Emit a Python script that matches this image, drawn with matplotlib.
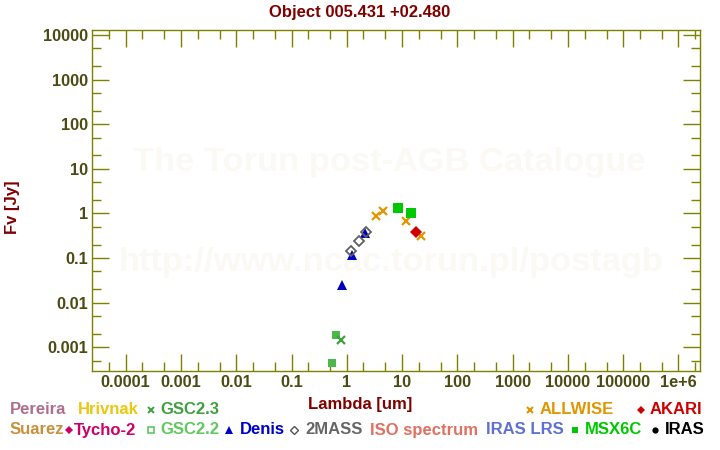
import matplotlib
matplotlib.use("Agg")
import matplotlib.pyplot as plt
from matplotlib.ticker import FixedLocator, FixedFormatter, LogLocator, NullFormatter
from matplotlib.lines import Line2D

plt.rcParams['font.family'] = ['Liberation Sans', 'DejaVu Sans']
plt.rcParams['font.weight'] = 'bold'

# ---- data (wavelength in um, flux in Jy) ----
gsc22_x = [0.55, 0.65]
gsc22_y = [0.00044, 0.00185]
gsc23_x = [0.80]
gsc23_y = [0.00147]
denis_x = [0.82, 1.25, 2.17]
denis_y = [0.0248, 0.117, 0.37]
mass2_x = [1.20, 1.69, 2.20]
mass2_y = [0.144, 0.237, 0.389]
allwise_x = [3.35, 4.6, 11.6, 22.1]
allwise_y = [0.86, 1.11, 0.67, 0.32]
msx_x = [8.3, 14.7]
msx_y = [1.30, 1.00]
akari_x = [17.9]
akari_y = [0.377]

xticks = [1e-4, 1e-3, 1e-2, 1e-1, 1, 10, 100, 1e3, 1e4, 1e5, 1e6]
xtick_labels = ['0.0001', '0.001', '0.01', '0.1', '1', '10', '100', '1000',
                '10000', '100000', '1e+6']
yticks = [1e-3, 1e-2, 1e-1, 1, 10, 100, 1e3, 1e4]
ytick_labels = ['0.001', '0.01', '0.1', '1', '10', '100', '1000', '10000']

title = 'Object 005.431 +02.480'

W, H = 720, 450
fig = plt.figure(figsize=(7.2, 4.5), dpi=100)
ax = fig.add_axes([92.3 / W, 1 - 370.7 / H, (700 - 92.3) / W, (370.7 - 29.7) / H])
ax.set_xscale('log')
ax.set_yscale('log')
ax.set_xlim(10 ** -4.604, 10 ** 6.389)
ax.set_ylim(10 ** -3.525, 10 ** 4.119)

olive = '#808000'
labc = '#4b4b14'
dred = '#800000'
for s in ax.spines.values():
    s.set_color(olive)
    s.set_linewidth(1.0)

ax.xaxis.set_major_locator(FixedLocator(xticks))
ax.xaxis.set_major_formatter(FixedFormatter(xtick_labels))
ax.yaxis.set_major_locator(FixedLocator(yticks))
ax.yaxis.set_major_formatter(FixedFormatter(ytick_labels))
ax.xaxis.set_minor_locator(LogLocator(base=10, subs=(2, 5), numticks=100))
ax.yaxis.set_minor_locator(LogLocator(base=10, subs=(2, 5), numticks=100))
ax.xaxis.set_minor_formatter(NullFormatter())
ax.yaxis.set_minor_formatter(NullFormatter())
ax.tick_params(which='both', direction='in', top=True, right=True, color=olive,
               width=1.0, labelsize=11.8, labelcolor=labc, pad=3)
ax.tick_params(which='major', length=12.5)
ax.tick_params(which='minor', length=6.5)
for lab in ax.get_xticklabels() + ax.get_yticklabels():
    lab.set_fontweight('bold')

# watermarks
wm = '#faf9f4'
ax.text(389 / W, 1 - 163 / H, 'The Torun post-AGB Catalogue', transform=fig.transFigure,
        ha='center', va='center', fontsize=24.8, color=wm, fontweight='bold', zorder=0)
ax.text(391 / W, 1 - 262 / H, 'http://www.ncac.torun.pl/postagb', transform=fig.transFigure,
        ha='center', va='center', fontsize=24.8, color=wm, fontweight='bold', zorder=0)

# data
ax.plot(gsc22_x, gsc22_y, 's', color='#4cb84c', ms=5.8, mew=0, ls='none', zorder=3)
ax.plot(gsc23_x, gsc23_y, 'x', color='#40a040', ms=5.5, mew=1.6, ls='none', zorder=3)
ax.plot(denis_x, denis_y, '^', color='#0000c0', ms=7, mew=0, ls='none', zorder=3)
ax.plot(mass2_x, mass2_y, 'D', mfc='none', mec='#606060', ms=5, mew=1.3, ls='none', zorder=4)
ax.plot(allwise_x, allwise_y, 'x', color='#e09600', ms=5.5, mew=1.6, ls='none', zorder=3)
ax.plot(msx_x, msx_y, 's', color='#00c800', ms=6.5, mew=0, ls='none', zorder=3)
ax.plot(akari_x, akari_y, 'D', color='#d00000', ms=5.8, mew=0, ls='none', zorder=3)

# titles
fig.text(360 / W, 1 - 12 / H, title, ha='center', va='center', fontsize=12,
         color=dred, fontweight='bold')
fig.text(360 / W, 1 - 404 / H, 'Lambda [um]', ha='center', va='center', fontsize=12,
         color=dred, fontweight='bold')
fig.text(12 / W, 1 - 207 / H, 'Fv [Jy]', ha='center', va='center', fontsize=12,
         color=dred, fontweight='bold', rotation=90)

# legend (text + symbols)
def ltext(x, y, s, c):
    fig.text(x / W, 1 - y / H, s, ha='left', va='center', fontsize=12, color=c,
             fontweight='bold')

def lmark(x, y, m, c, **kw):
    fig.add_artist(Line2D([x / W], [1 - y / H], marker=m, color=c, ls='none',
                          transform=fig.transFigure, **kw))

r1, r2 = 410, 430
ltext(10, r1, 'Pereira', '#b06e8e')
ltext(78, r1, 'Hrivnak', '#e8c810')
lmark(150.7, r1, 'x', '#40a040', ms=4.5, mew=1.4)
ltext(160, r1, 'GSC2.3', '#40a040')
lmark(530.3, r1, 'x', '#e09600', ms=5, mew=1.5)
ltext(539.5, r1, 'ALLWISE', '#e09600')
lmark(641, r1, 'D', '#d00000', ms=4.5, mew=0)
ltext(649.5, r1, 'AKARI', '#d00000')

ltext(10, r2, 'Suarez', '#c8903c')
lmark(69.3, r2, 'D', '#cc0066', ms=4.5, mew=0)
ltext(73.5, r2, 'Tycho-2', '#cc0066')
lmark(151.3, r2, 's', '#60c860', mfc='none', ms=4.5, mew=1.2)
ltext(160.5, r2, 'GSC2.2', '#60c860')
lmark(228.7, r2, '^', '#0000cc', ms=5.5, mew=0)
ltext(240, r2, 'Denis', '#0000cc')
lmark(294, r2, 'D', '#555555', mfc='none', ms=4, mew=1.0)
ltext(305, r2, '2MASS', '#666666')
ltext(370.5, r2, 'ISO spectrum', '#e07060')
ltext(485.5, r2, 'IRAS LRS', '#6070d0')
lmark(575, r2, 's', '#00c800', ms=5, mew=0)
ltext(584.5, r2, 'MSX6C', '#00c800')
lmark(655.3, r2, 'o', '#000000', ms=4.5, mew=0)
ltext(665, r2, 'IRAS', '#000000')

fig.savefig('out.png', dpi=100)
